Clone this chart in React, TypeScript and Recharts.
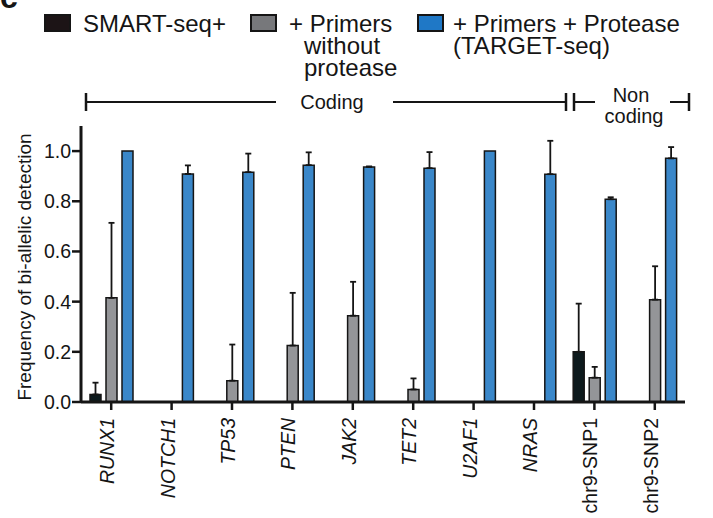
import React from 'react'
import { Bar, BarChart, ErrorBar, XAxis, YAxis } from 'recharts'

const CATEGORIES = ['RUNX1', 'NOTCH1', 'TP53', 'PTEN', 'JAK2', 'TET2', 'U2AF1', 'NRAS', 'chr9-SNP1', 'chr9-SNP2']

// mean frequency of bi-allelic detection per condition (null = not detected / no bar)
const SMART_SEQ = [0.03, null, null, null, null, null, null, null, 0.2, null]
const SMART_SEQ_ERR = [0.047, null, null, null, null, null, null, null, 0.192, null]

const PRIMERS = [0.415, null, 0.085, 0.225, 0.344, 0.05, null, null, 0.097, 0.408]
const PRIMERS_ERR = [0.299, null, 0.144, 0.21, 0.135, 0.044, null, null, 0.043, 0.133]

const PROTEASE = [1.0, 0.909, 0.916, 0.944, 0.937, 0.932, 1.0, 0.908, 0.808, 0.971]
const PROTEASE_ERR = [null, 0.034, 0.074, 0.051, 0.002, 0.064, null, 0.133, 0.008, 0.045]

const Y_TICKS = [0, 0.2, 0.4, 0.6, 0.8, 1.0]

const upOnly = (v: number | null) => (v == null ? null : [0, v])

const data = CATEGORIES.map((name, i) => ({
  name,
  smart: SMART_SEQ[i],
  smartErr: upOnly(SMART_SEQ_ERR[i]),
  primers: PRIMERS[i],
  primersErr: upOnly(PRIMERS_ERR[i]),
  protease: PROTEASE[i],
  proteaseErr: upOnly(PROTEASE_ERR[i]),
}))

const FONT = '"Liberation Sans", Arial, Helvetica, sans-serif'
const INK = '#151515'

function GeneTick({ x, y, payload }: any) {
  const label: string = payload.value
  const italic = !label.startsWith('chr9')
  return (
    <g transform={`translate(${x},${y})`}>
      <text
        transform="rotate(-90)"
        x={-6}
        y={3}
        textAnchor="end"
        fontSize={19.5}
        fontStyle={italic ? 'italic' : 'normal'}
        fill={INK}
      >
        {label}
      </text>
    </g>
  )
}

function Overlay() {
  const legendText = { fontSize: 24, fill: INK }
  const bracket = { stroke: INK, strokeWidth: 2 }
  return (
    <svg width={713} height={518} style={{ position: 'absolute', left: 0, top: 0, pointerEvents: 'none' }}>
      <text x={0} y={8} fontSize={32} fontWeight="bold" fill={INK}>c</text>

      {/* legend */}
      <rect x={45} y={15} width={25} height={16} fill="#1c1416" stroke={INK} strokeWidth={2} />
      <text x={83} y={32} {...legendText}>SMART-seq+</text>
      <rect x={251} y={15} width={25} height={16} fill="#77787b" stroke={INK} strokeWidth={2} />
      <text x={289} y={32} {...legendText}>+ Primers</text>
      <text x={304} y={54} {...legendText}>without</text>
      <text x={304} y={76} {...legendText}>protease</text>
      <rect x={418} y={15} width={25} height={16} fill="#1f78c6" stroke={INK} strokeWidth={2} />
      <text x={453} y={32} {...legendText}>+ Primers + Protease</text>
      <text x={453} y={54} {...legendText}>(TARGET-seq)</text>

      {/* coding / non coding bracket */}
      <line x1={86} y1={93} x2={86} y2={111} {...bracket} strokeWidth={2.5} />
      <line x1={86} y1={102} x2={276} y2={102} {...bracket} />
      <text x={332} y={109} textAnchor="middle" fontSize={20} fill={INK}>Coding</text>
      <line x1={393} y1={102} x2={566} y2={102} {...bracket} />
      <line x1={566} y1={93} x2={566} y2={111} {...bracket} strokeWidth={2.5} />
      <line x1={574} y1={93} x2={574} y2={111} {...bracket} strokeWidth={2.5} />
      <line x1={574} y1={102} x2={595} y2={102} {...bracket} />
      <text x={631} y={102} textAnchor="middle" fontSize={20} fill={INK}>Non</text>
      <text x={634} y={123} textAnchor="middle" fontSize={20} fill={INK}>coding</text>
      <line x1={670} y1={102} x2={689} y2={102} {...bracket} />
      <line x1={689} y1={93} x2={689} y2={111} {...bracket} strokeWidth={2.5} />

      <text
        transform="translate(31,267) rotate(-90)"
        textAnchor="middle"
        fontSize={19}
        fill={INK}
      >
        Frequency of bi-allelic detection
      </text>
    </svg>
  )
}

export default function App() {
  return (
    <div style={{ position: 'absolute', left: 0, top: 0, width: 713, height: 518, background: '#fff', fontFamily: FONT }}>
      <BarChart
        width={713}
        height={518}
        data={data}
        margin={{ top: 126, right: 28, bottom: 0, left: 0 }}
        barSize={11}
        barGap={5}
      >
        <XAxis
          dataKey="name"
          height={116}
          interval={0}
          tick={<GeneTick />}
          tickSize={8}
          tickMargin={2}
          axisLine={{ stroke: INK, strokeWidth: 3 }}
          tickLine={{ stroke: INK, strokeWidth: 2.5 }}
        />
        <YAxis
          width={81}
          domain={[0, 1.1]}
          ticks={Y_TICKS}
          tickFormatter={(v: number) => v.toFixed(1)}
          tick={{ fontSize: 19.5, fill: INK }}
          tickSize={9}
          tickMargin={1}
          axisLine={{ stroke: INK, strokeWidth: 3 }}
          tickLine={{ stroke: INK, strokeWidth: 2.5 }}
        />
        <Bar dataKey="smart" fill="#0d1a1d" stroke={INK} strokeWidth={1.5} isAnimationActive={false}>
          <ErrorBar dataKey="smartErr" width={3} stroke={INK} strokeWidth={1.8} />
        </Bar>
        <Bar dataKey="primers" fill="#949598" stroke={INK} strokeWidth={1.5} isAnimationActive={false}>
          <ErrorBar dataKey="primersErr" width={3} stroke={INK} strokeWidth={1.8} />
        </Bar>
        <Bar dataKey="protease" fill="#3a87c9" stroke={INK} strokeWidth={1.5} isAnimationActive={false}>
          <ErrorBar dataKey="proteaseErr" width={3} stroke={INK} strokeWidth={1.8} />
        </Bar>
      </BarChart>
      <Overlay />
    </div>
  )
}
